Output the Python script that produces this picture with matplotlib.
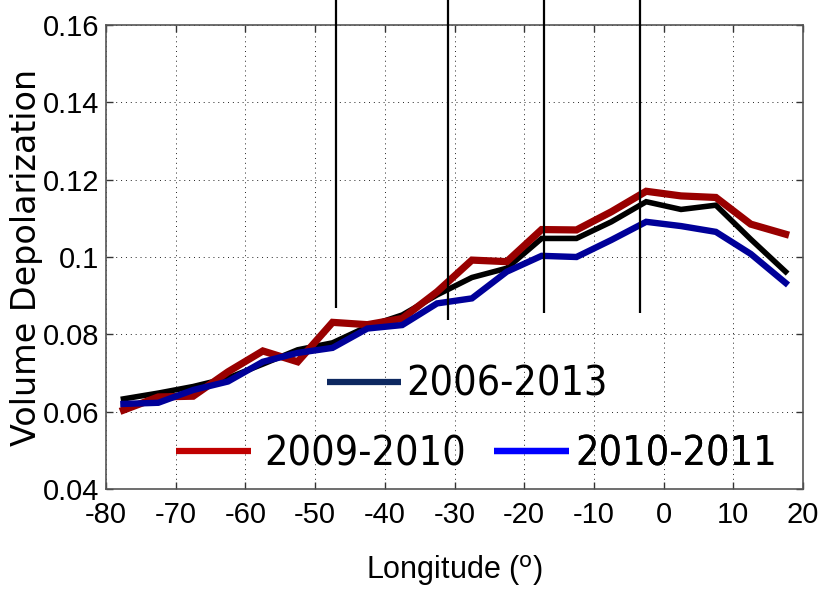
import numpy as np
import matplotlib
matplotlib.use('Agg')
import matplotlib.pyplot as plt
from matplotlib.lines import Line2D

plt.rcParams['axes.unicode_minus'] = False

# Longitude bin centres (degrees)
lon = [-77.5, -72.5, -67.5, -62.5, -57.5, -52.5, -47.5, -42.5, -37.5, -32.5,
       -27.5, -22.5, -17.5, -12.5, -7.5, -2.5, 2.5, 7.5, 12.5, 17.5]

# Volume depolarization per period
dep_2006_2013 = [0.0633, 0.0648, 0.0665, 0.0687, 0.0723, 0.0760, 0.0778, 0.0820, 0.0850, 0.0902,
                 0.0947, 0.0971, 0.1048, 0.1048, 0.1091, 0.1143, 0.1123, 0.1134, 0.1046, 0.0962]
dep_2009_2010 = [0.0604, 0.0638, 0.0640, 0.0703, 0.0757, 0.0729, 0.0831, 0.0825, 0.0841, 0.0910,
                 0.0992, 0.0988, 0.1071, 0.1070, 0.1117, 0.1170, 0.1158, 0.1154, 0.1085, 0.1059]
dep_2010_2011 = [0.0620, 0.0623, 0.0656, 0.0678, 0.0729, 0.0752, 0.0765, 0.0815, 0.0824, 0.0880,
                 0.0893, 0.0962, 0.1003, 0.1000, 0.1044, 0.1091, 0.1080, 0.1065, 0.1008, 0.0933]

# Vertical marker lines (longitude, lower end)
mark_lon = [-47, -31, -17.1, -3.4]
mark_bottom = [0.0867, 0.0837, 0.0854, 0.0854]
mark_top = 0.175

labels = ['2006-2013', '2009-2010', '2010-2011']

tick_font = 'Liberation Sans'

fig = plt.figure(figsize=(8.23, 5.90), dpi=100)
ax = fig.add_axes([0.1288, 0.1712, 0.8469, 0.7864])

ax.plot(lon, dep_2006_2013, color='black', linewidth=4.0, solid_joinstyle='miter', zorder=3)
ax.plot(lon, dep_2009_2010, color='#990000', linewidth=5.2, solid_joinstyle='miter', zorder=4)
ax.plot(lon, dep_2010_2011, color='#000099', linewidth=4.6, solid_joinstyle='miter', zorder=5)

ax.vlines(mark_lon, mark_bottom, mark_top, color='black', linewidth=1.6, clip_on=False, zorder=6)

ax.set_xlim(-80, 20)
ax.set_ylim(0.04, 0.16)
ax.set_xticks(np.arange(-80, 21, 10))
ax.set_yticks([0.04, 0.06, 0.08, 0.1, 0.12, 0.14, 0.16])
ax.set_yticklabels(['0.04', '0.06', '0.08', '0.1', '0.12', '0.14', '0.16'])

ax.grid(True, color='#222222', linestyle=(0, (1, 4)), linewidth=0.7)
ax.tick_params(direction='in', length=5, width=1, color='#333333',
               top=True, right=True, labelsize=21)
ax.tick_params(axis='x', pad=9)
ax.tick_params(axis='y', pad=5)
for lab in ax.get_xticklabels() + ax.get_yticklabels():
    lab.set_family(tick_font)
for sp in ax.spines.values():
    sp.set_color('#555555')
    sp.set_linewidth(1.2)

ax.set_xlabel('Longitude ($^{\\mathrm{o}}$)', family=tick_font, fontsize=22, labelpad=17)
ax.set_ylabel('Volume Depolarization', family='DejaVu Sans', fontsize=24, labelpad=0)

# hand placed legend entries like the original
leg_font = {'family': 'DejaVu Sans', 'stretch': 'condensed', 'size': 29.5}
legend_colors = ['#0d2860', '#c00000', '#0000ff']
legend_pos = [(0.397, 0.3475), (0.2139, 0.2299), (0.6002, 0.2299)]
legend_gap = [0.12, 0.33, 0.17]
for lab, col, pos, gap in zip(labels, legend_colors, legend_pos, legend_gap):
    h = Line2D([], [], color=col, linewidth=4.5, solid_capstyle='butt')
    leg = ax.legend([h], [lab], prop=leg_font, frameon=False, loc='center left',
                    bbox_to_anchor=pos, bbox_transform=fig.transFigure,
                    handlelength=1.82, handletextpad=gap, borderpad=0, borderaxespad=0)
    ax.add_artist(leg)

fig.savefig('out.png', dpi=100)
plt.close()
